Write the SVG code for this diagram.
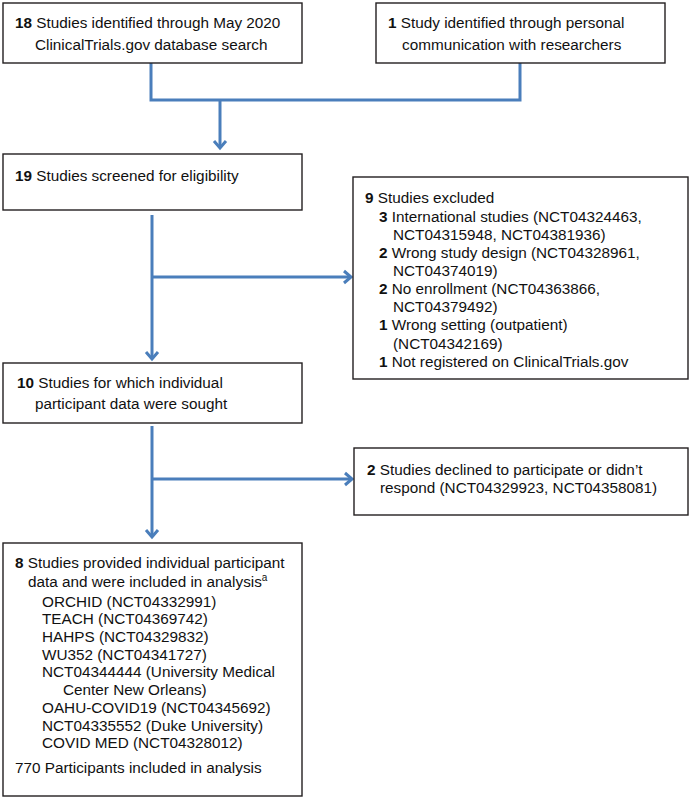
<svg xmlns="http://www.w3.org/2000/svg" width="690" height="800" viewBox="0 0 690 800">
<defs>
<style>
.box{fill:#fff;stroke:#231f20;stroke-width:1.4}
.t{font-family:"Liberation Sans",Arial,Helvetica,sans-serif;font-size:15.3px;fill:#111}
.b{font-weight:bold}
.c{fill:none;stroke:#4a7ebb;stroke-width:3}
</style>
<marker id="ah" markerUnits="userSpaceOnUse" markerWidth="16" markerHeight="16" refX="10" refY="8" orient="auto">
<path d="M3,2 L10,8 L3,14" fill="none" stroke="#4a7ebb" stroke-width="3"/>
</marker>
</defs>
<rect width="690" height="800" fill="#fff"/>

<g id="connectors">
<path class="c" d="M151,63 V100 H520 V63"/>
<path class="c" d="M220,100 V148" marker-end="url(#ah)"/>
<path class="c" d="M152,215 V359" marker-end="url(#ah)"/>
<path class="c" d="M152,277 H351" marker-end="url(#ah)"/>
<path class="c" d="M152,426 V537" marker-end="url(#ah)"/>
<path class="c" d="M152,479 H352" marker-end="url(#ah)"/>
</g>

<g id="n1">
<rect class="box" x="3" y="3" width="299" height="60"/>
<text class="t" x="15" y="28"><tspan class="b">18</tspan> Studies identified through May 2020</text>
<text class="t" x="35" y="50">ClinicalTrials.gov database search</text>
</g>

<g id="n2">
<rect class="box" x="376" y="3" width="289" height="60"/>
<text class="t" x="388" y="28"><tspan class="b">1</tspan> Study identified through personal</text>
<text class="t" x="402" y="50">communication with researchers</text>
</g>

<g id="n3">
<rect class="box" x="3" y="154" width="299" height="56"/>
<text class="t" x="15" y="181"><tspan class="b">19</tspan> Studies screened for eligibility</text>
</g>

<g id="n4">
<rect class="box" x="353" y="177" width="335" height="202"/>
<text class="t" x="365" y="203.3"><tspan class="b">9</tspan> Studies excluded</text>
<text class="t" x="379" y="221.5"><tspan class="b">3</tspan> International studies (NCT04324463,</text>
<text class="t" x="393" y="239.6">NCT04315948, NCT04381936)</text>
<text class="t" x="379" y="257.8"><tspan class="b">2</tspan> Wrong study design (NCT04328961,</text>
<text class="t" x="393" y="275.9">NCT04374019)</text>
<text class="t" x="379" y="294.1"><tspan class="b">2</tspan> No enrollment (NCT04363866,</text>
<text class="t" x="393" y="312.2">NCT04379492)</text>
<text class="t" x="379" y="330.4"><tspan class="b">1</tspan> Wrong setting (outpatient)</text>
<text class="t" x="393" y="348.5">(NCT04342169)</text>
<text class="t" x="379" y="366.7"><tspan class="b">1</tspan> Not registered on ClinicalTrials.gov</text>
</g>

<g id="n5">
<rect class="box" x="3" y="363" width="299" height="60"/>
<text class="t" x="17" y="388"><tspan class="b">10</tspan> Studies for which individual</text>
<text class="t" x="35" y="409">participant data were sought</text>
</g>

<g id="n6">
<rect class="box" x="354" y="448" width="334" height="67"/>
<text class="t" x="367" y="475"><tspan class="b">2</tspan> Studies declined to participate or didn’t</text>
<text class="t" x="380" y="493">respond (NCT04329923, NCT04358081)</text>
</g>

<g id="n7">
<rect class="box" x="3" y="543" width="299" height="253"/>
<text class="t" x="15" y="568.3"><tspan class="b">8</tspan> Studies provided individual participant</text>
<text class="t" x="28" y="586.7">data and were included in analysis<tspan font-size="10" dy="-6">a</tspan></text>
<text class="t" x="42" y="606.7">ORCHID (NCT04332991)</text>
<text class="t" x="42" y="624.3">TEACH (NCT04369742)</text>
<text class="t" x="42" y="642">HAHPS (NCT04329832)</text>
<text class="t" x="42" y="659.5">WU352 (NCT04341727)</text>
<text class="t" x="42" y="677.3">NCT04344444 (University Medical</text>
<text class="t" x="63" y="695">Center New Orleans)</text>
<text class="t" x="42" y="712.7">OAHU-COVID19 (NCT04345692)</text>
<text class="t" x="42" y="730.5">NCT04335552 (Duke University)</text>
<text class="t" x="42" y="748.3">COVID MED (NCT04328012)</text>
<text class="t" x="15" y="773.3">770 Participants included in analysis</text>
</g>
</svg>
